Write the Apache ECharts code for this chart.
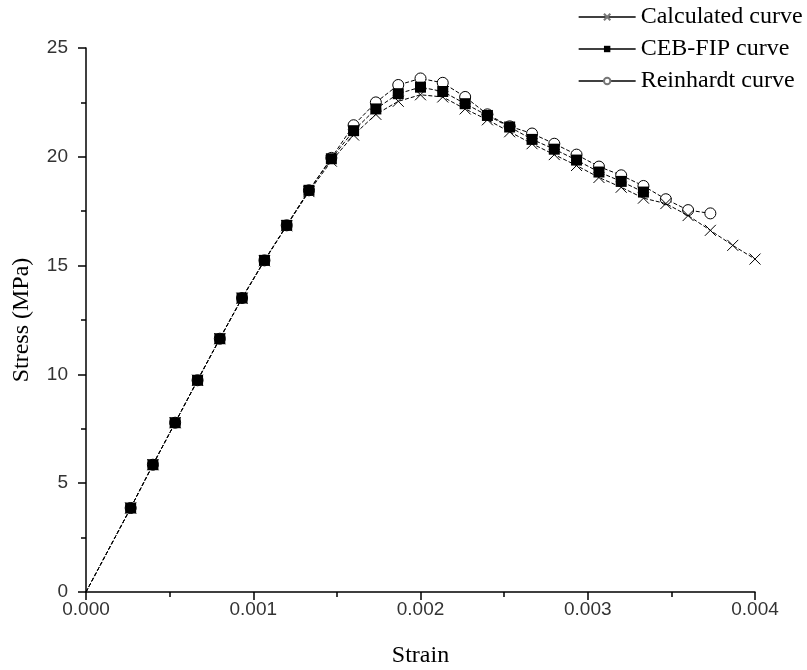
<!DOCTYPE html>
<html>
<head>
<meta charset="utf-8">
<script src="https://cdn.jsdelivr.net/npm/echarts@6/dist/echarts.min.js"></script>
<style>html,body{margin:0;padding:0;background:#fff;}#c{width:807px;height:670px;}</style>
</head>
<body>
<div id="c"></div>
<script>
var strain = [0, 0.000267, 0.0004, 0.000533, 0.000667, 0.0008, 0.000933, 0.001067, 0.0012, 0.001333, 0.001467, 0.0016, 0.001733, 0.001867, 0.002, 0.002133, 0.002267, 0.0024, 0.002533, 0.002667, 0.0028, 0.002933, 0.003067, 0.0032, 0.003333, 0.003467, 0.0036, 0.003733, 0.003867, 0.004];
var calculated = [0, 3.86, 5.85, 7.78, 9.73, 11.64, 13.5, 15.22, 16.83, 18.4, 19.8, 21.0, 21.95, 22.55, 22.85, 22.75, 22.2, 21.7, 21.15, 20.6, 20.1, 19.6, 19.05, 18.6, 18.1, 17.85, 17.3, 16.62, 15.93, 15.3];
var cebfip = [0, 3.86, 5.85, 7.78, 9.73, 11.64, 13.51, 15.24, 16.85, 18.46, 19.91, 21.2, 22.2, 22.9, 23.2, 23.0, 22.44, 21.9, 21.37, 20.8, 20.35, 19.85, 19.3, 18.87, 18.38];
var reinhardt = [0, 3.86, 5.85, 7.78, 9.73, 11.64, 13.51, 15.24, 16.85, 18.46, 19.95, 21.45, 22.5, 23.3, 23.6, 23.4, 22.75, 21.95, 21.4, 21.07, 20.6, 20.1, 19.55, 19.15, 18.66, 18.05, 17.55, 17.4];
var seriesNames = ['Calculated curve', 'CEB-FIP curve', 'Reinhardt curve'];
var xTicks = ['0.000', '0.001', '0.002', '0.003', '0.004'];

function pairs(vals) {
  return vals.map(function (v, i) {
    var item = { value: [strain[i], v] };
    if (i === 0) item.symbol = 'none';
    return item;
  });
}

var chart = echarts.init(document.getElementById('c'), null, { renderer: 'canvas' });
var lineStyle = { color: '#000', width: 1, type: [4, 2] };
chart.setOption({
  animation: false,
  backgroundColor: '#fff',
  grid: { left: 86, right: 52, top: 48, bottom: 78, containLabel: false, outerBoundsMode: 'none' },
  legend: {
    orient: 'vertical',
    left: 573,
    top: 0,
    itemWidth: 57,
    itemHeight: 8,
    itemGap: 8,
    lineStyle: { type: 'solid', width: 1.3, color: '#000' },
    textStyle: { fontFamily: 'Liberation Serif', fontSize: 24, color: '#000' },
    data: [
      { name: seriesNames[0], itemStyle: { borderColor: '#777' } },
      { name: seriesNames[1] },
      { name: seriesNames[2], itemStyle: { borderColor: '#777' } }
    ]
  },
  xAxis: {
    type: 'value',
    min: 0, max: 0.004, interval: 0.001,
    name: 'Strain',
    nameLocation: 'middle',
    nameGap: 52,
    nameTextStyle: { fontFamily: 'Liberation Serif', fontSize: 24, color: '#000' },
    axisLine: { lineStyle: { color: '#000', width: 1.5 } },
    axisTick: { inside: false, length: 8, lineStyle: { color: '#000', width: 1.5 } },
    minorTick: { show: true, splitNumber: 2, length: 5, lineStyle: { color: '#000', width: 1.5 } },
    splitLine: { show: false },
    axisLabel: {
      margin: 8,
      fontFamily: 'Liberation Sans', fontSize: 19, color: '#333',
      formatter: function (v) { return xTicks[Math.round(v / 0.001)]; }
    }
  },
  yAxis: {
    type: 'value',
    min: 0, max: 25, interval: 5,
    name: 'Stress (MPa)',
    nameLocation: 'middle',
    nameGap: 52,
    nameTextStyle: { fontFamily: 'Liberation Serif', fontSize: 24, color: '#000' },
    axisLine: { show: true, lineStyle: { color: '#000', width: 1.5 } },
    axisTick: { show: true, inside: false, length: 8, lineStyle: { color: '#000', width: 1.5 } },
    minorTick: { show: true, splitNumber: 2, length: 5, lineStyle: { color: '#000', width: 1.5 } },
    splitLine: { show: false },
    axisLabel: { margin: 18, fontFamily: 'Liberation Sans', fontSize: 19, color: '#333' }
  },
  series: [
    {
      name: seriesNames[0], type: 'line', z: 4,
      symbol: 'path://M0,0L10,10M10,0L0,10', symbolSize: 11,
      itemStyle: { color: 'rgba(0,0,0,0)', borderColor: '#000', borderWidth: 1 },
      lineStyle: lineStyle,
      data: pairs(calculated)
    },
    {
      name: seriesNames[1], type: 'line', z: 3,
      symbol: 'rect', symbolSize: 11,
      itemStyle: { color: '#000', borderColor: '#000', borderWidth: 0 },
      lineStyle: lineStyle,
      data: pairs(cebfip)
    },
    {
      name: seriesNames[2], type: 'line', z: 2,
      symbol: 'circle', symbolSize: 11,
      itemStyle: { color: '#fff', borderColor: '#000', borderWidth: 1 },
      lineStyle: lineStyle,
      data: pairs(reinhardt)
    }
  ]
});
</script>
</body>
</html>
